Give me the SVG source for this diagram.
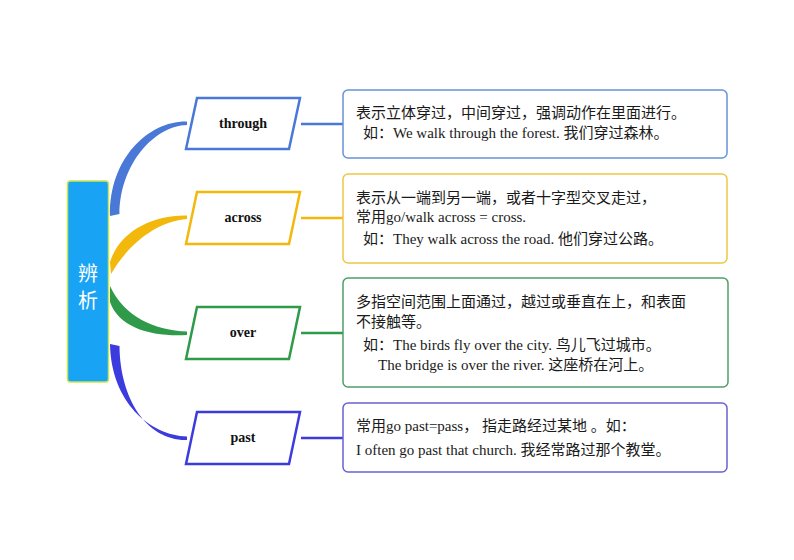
<svg xmlns="http://www.w3.org/2000/svg" width="794" height="560" viewBox="0 0 794 560">
<style>
.lbl{font-family:"Liberation Serif","Noto Sans CJK SC",serif;font-weight:bold;font-size:14px;fill:#111;text-anchor:middle}
.txt{font-family:"Liberation Serif","Noto Sans CJK SC",serif;font-size:15px;fill:#1a1a1a}
.para{fill:#fff;stroke-width:2.5;stroke-linejoin:miter}
.box{fill:#fff;stroke-width:1.5}
.line{fill:none;stroke-width:2.5}
.c1{stroke:#4a78d6}.f1{fill:#4a78d6}
.c2{stroke:#f2b80c}.f2{fill:#f2b80c}
.c3{stroke:#2f9a4a}.f3{fill:#2f9a4a}
.c4{stroke:#3b3bde}.f4{fill:#3b3bde}
</style>
<rect width="794" height="560" fill="#fff"/>
<g id="connectors">
<path class="f1" d="M110,216 C109,157 150,120.5 187,121.5 L187,125 C154,126 120,164 119.5,214 Z"/>
<path class="f2" d="M110,262 C120,230 155,214.5 187,215.5 L187,219 C158,221 129,243 111,274 Z"/>
<path class="f3" d="M110,286 C124,317 155,330.5 187,331.5 L187,335 C152,337 119,328 110,302 Z"/>
<path class="f4" d="M110,344 C111,402 150,435.5 187,436.5 L187,440 C147,441 120,399 119.5,346 Z"/>
<line class="line c1" x1="301" y1="124" x2="343" y2="124"/>
<line class="line c2" x1="301" y1="218" x2="343" y2="218"/>
<line class="line c3" x1="301" y1="333" x2="343" y2="333"/>
<line class="line c4" x1="301" y1="438" x2="343" y2="438"/>
</g>
<g id="root">
<rect x="67.5" y="181" width="41" height="201" rx="3" fill="#19a3f5" stroke="#c8e64c" stroke-width="1.5"/>
<text x="88" y="281" font-family="'Noto Sans CJK SC',sans-serif" font-size="20" fill="#fff" text-anchor="middle">辨</text>
<text x="88" y="308" font-family="'Noto Sans CJK SC',sans-serif" font-size="20" fill="#fff" text-anchor="middle">析</text>
</g>
<g id="through">
<polygon class="para c1" points="197,98 300,98 289,149 186,149"/>
<text class="lbl" x="243" y="128">through</text>
</g>
<g id="across">
<polygon class="para c2" points="197,192 300,192 289,244 186,244"/>
<text class="lbl" x="243" y="222">across</text>
</g>
<g id="over">
<polygon class="para c3" points="197,307 300,307 289,359 186,359"/>
<text class="lbl" x="243" y="337">over</text>
</g>
<g id="past">
<polygon class="para c4" points="197,412 300,412 289,464 186,464"/>
<text class="lbl" x="243" y="442">past</text>
</g>
<g id="through-desc">
<rect class="box" x="343" y="90" width="384" height="68" rx="5" stroke="#6892d8"/>
<text class="txt" x="356" y="118">表示立体穿过，中间穿过，强调动作在里面进行。</text>
<text class="txt" x="363" y="138">如：We walk through the forest. 我们穿过森林。</text>
</g>
<g id="across-desc">
<rect class="box" x="343" y="174" width="384" height="89" rx="5" stroke="#f0c648"/>
<text class="txt" x="356" y="203">表示从一端到另一端，或者十字型交叉走过，</text>
<text class="txt" x="356" y="222">常用go/walk across = cross.</text>
<text class="txt" x="363" y="244">如：They walk across the road. 他们穿过公路。</text>
</g>
<g id="over-desc">
<rect class="box" x="343" y="278" width="385" height="109" rx="5" stroke="#4f9e6a"/>
<text class="txt" x="356" y="307">多指空间范围上面通过，越过或垂直在上，和表面</text>
<text class="txt" x="356" y="327">不接触等。</text>
<text class="txt" x="363" y="350">如：The birds fly over the city. 鸟儿飞过城市。</text>
<text class="txt" x="378" y="370">The bridge is over the river. 这座桥在河上。</text>
</g>
<g id="past-desc">
<rect class="box" x="343" y="403" width="384" height="69" rx="5" stroke="#6a62d2"/>
<text class="txt" x="356" y="431">常用go past=pass， 指走路经过某地 。如：</text>
<text class="txt" x="356" y="455">I often go past that church. 我经常路过那个教堂。</text>
</g>
</svg>
